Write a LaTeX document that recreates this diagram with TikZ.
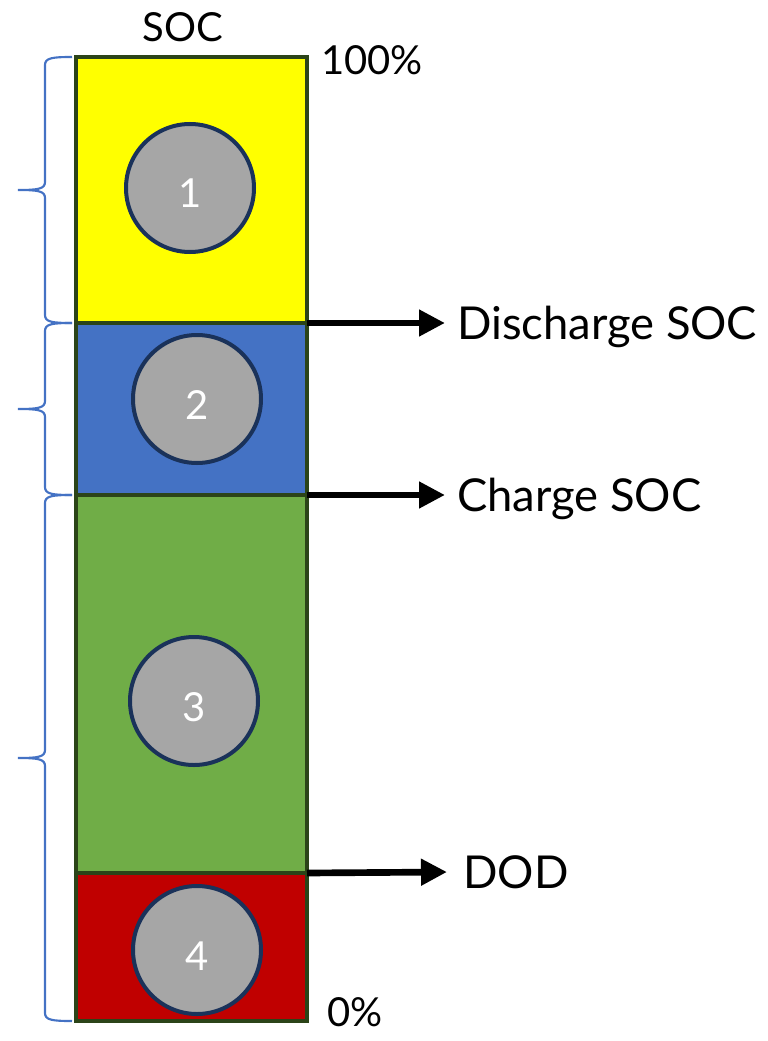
\documentclass[tikz,border=0pt]{standalone}
\usepackage{fontspec}
\setmainfont{Lato}
\usetikzlibrary{arrows.meta, positioning}
\definecolor{socyellow}{HTML}{FFFF00}
\definecolor{socblue}{HTML}{4472C4}
\definecolor{socgreen}{HTML}{70AD47}
\definecolor{socred}{HTML}{C00000}
\definecolor{barline}{HTML}{2B4418}
\definecolor{ringline}{HTML}{1A325A}
\definecolor{levelgray}{HTML}{A6A6A6}
% left brace between two heights (pixel units)
\newcommand{\socbrace}[2]{%
  \draw[brc] (72,#1) .. controls (52,#1) and (45,{#1+1}) .. (45,{#1+8})
    -- (45,{(#1+#2)/2-8}) .. controls (45,{(#1+#2)/2-1}) and (38,{(#1+#2)/2}) .. (18,{(#1+#2)/2})
    .. controls (38,{(#1+#2)/2}) and (45,{(#1+#2)/2+1}) .. (45,{(#1+#2)/2+8})
    -- (45,{#2-8}) .. controls (45,{#2-1}) and (52,#2) .. (72,#2);}

\begin{document}
\begin{tikzpicture}[x=0.75pt, y=-0.75pt, >=Stealth,
        seg/.style={draw=barline, line width=3.2pt},
        level/.style={circle, draw=ringline, line width=3pt, fill=levelgray,
        minimum size=96pt, inner sep=0pt, text=white, font=\fontsize{30}{30}\selectfont,
        text height=30pt, text depth=0pt},
        lbl/.style={anchor=west, inner sep=0pt, text height=24.4pt, text depth=0pt,
        font=\fontsize{34}{34}\selectfont},
        small/.style={lbl, text height=21.5pt, font=\fontsize{30}{30}\selectfont},
        arr/.style={-{Triangle[length=19.5pt, width=19pt]}, line width=5pt},
        brc/.style={draw=socblue, line width=1.6pt}]
      \useasboundingbox (0,0) rectangle (767,1041);
      % the bar
      \draw[seg, fill=socyellow] (76,57) rectangle (307,323);
      \draw[seg, fill=socblue] (76,323) rectangle (307,495);
      \draw[seg, fill=socgreen] (76,495) rectangle (307,873);
      \draw[seg, fill=socred] (76,873) rectangle (307,1021);
      \coordinate (d1) at (307,323);
      \coordinate (c1) at (307,495);
      \coordinate (o1) at (307,873);
      % levels
      \node[level] (l1) at (190,188) {1};
      \node[level] (l2) at (197,399) {2};
      \node[level] (l3) at (194,701) {3};
      \node[level] (l4) at (197,950) {4};
      % texts
      \node[small, anchor=center] (soc) at (183,27) {SOC};
      \node[small] (top) at (321,60) {100\%};
      \node[small] (bot) at (327,1012) {0\%};
      \node[lbl] (dis) at (457,323) {Discharge SOC};
      \node[lbl] (chg) at (457,495) {Charge SOC};
      \node[lbl] (dod) at (463,872) {DOD};
      \draw[arr] (d1) -- ([xshift=-9pt]dis.west);
      \draw[arr] (c1) -- ([xshift=-9pt]chg.west);
      \draw[arr] (o1) -- ([xshift=-12pt]dod.west);
      % braces
      \socbrace{57}{323}
      \socbrace{323}{495}
      \socbrace{495}{1021}
    \end{tikzpicture}
\end{document}
